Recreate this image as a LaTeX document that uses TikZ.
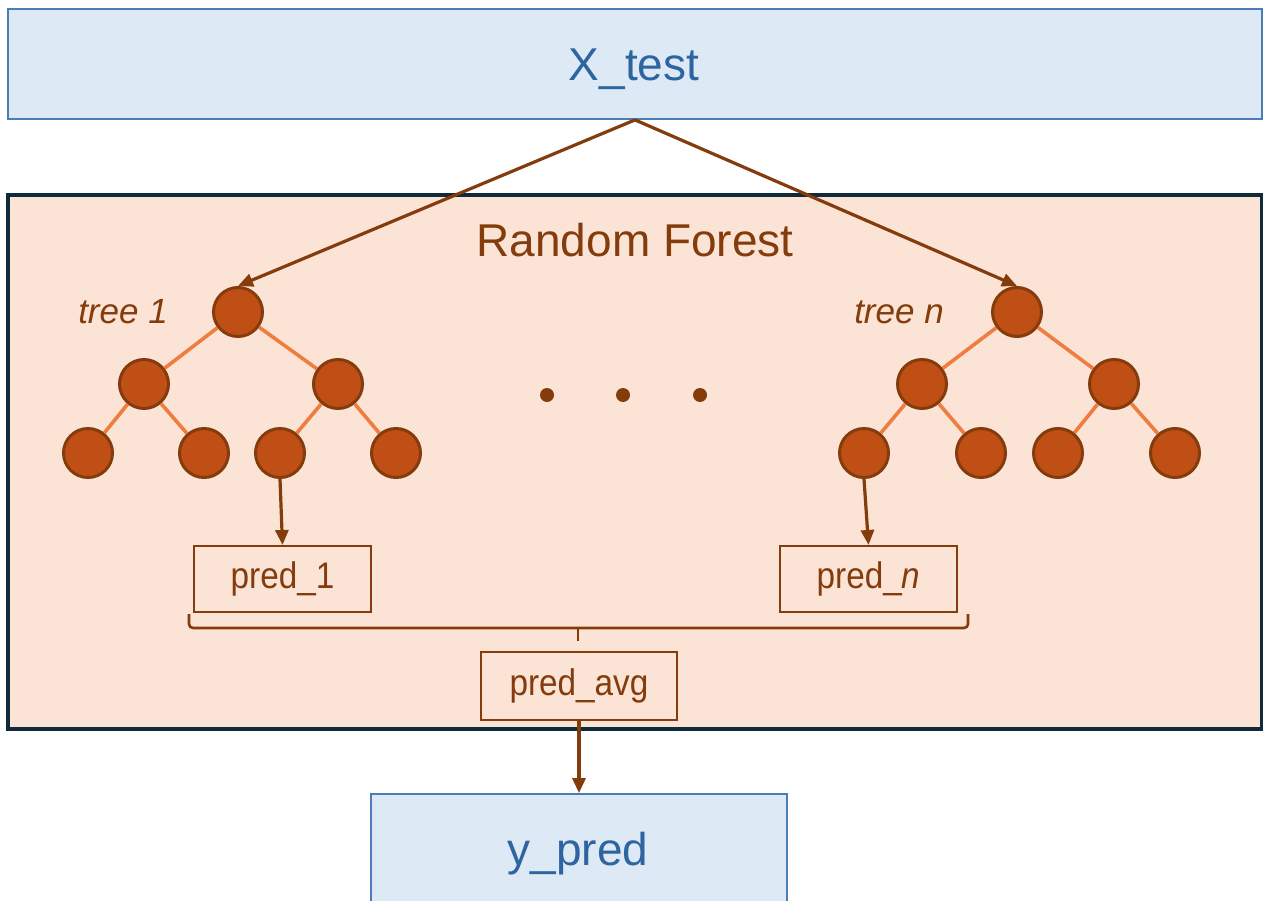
\documentclass[tikz,border=0pt]{standalone}
\usepackage{fontspec}
\setmainfont{Liberation Sans}
\newfontfamily\narrowfont[FakeStretch=0.9]{Liberation Sans}
\usetikzlibrary{arrows.meta}
\definecolor{boxblue}{HTML}{DDEAF6}
\definecolor{edgeblue}{HTML}{4A7EB4}
\definecolor{textblue}{HTML}{2E64A0}
\definecolor{peach}{HTML}{FBE3D6}
\definecolor{navy}{HTML}{0F2A3A}
\definecolor{brown}{HTML}{843C0C}
\definecolor{rust}{HTML}{C04F15}
\definecolor{branch}{HTML}{EE7D3F}
\tikzset{
  io/.style={draw=edgeblue, line width=1.8pt, fill=boxblue, text=textblue,
    font=\fontsize{46}{50}\selectfont, inner sep=0pt},
  treenode/.style={circle, draw=brown, line width=3pt, fill=rust,
    minimum size=49pt, inner sep=0pt},
  branchline/.style={draw=branch, line width=3.6pt},
  flow/.style={draw=brown, line width=3.2pt, -{Triangle[length=15pt,width=13pt]}},
  predbox/.style={draw=brown, line width=2pt, text=brown, inner sep=0pt,
    font=\narrowfont\fontsize{37}{40}\selectfont},
  treelabel/.style={text=brown, font=\itshape\fontsize{35}{38}\selectfont},
  dotnode/.style={circle, fill=brown, minimum size=14pt, inner sep=0pt},
}
\begin{document}
\begin{tikzpicture}[x=1pt, y=-1pt]
\useasboundingbox (0,0) rectangle (1263,901);
\clip (0,0) rectangle (1263,901);

% input and output boxes
\node[io, minimum width=1254pt, minimum height=110pt] (xtest) at (635,64) {};
\node[text=textblue, font=\fontsize{46}{50}\selectfont] (xtestlabel) at (634,69) {X\_test};
\node[io, minimum width=416pt, minimum height=130pt] (ypred) at (579,859) {};
\node[text=textblue, font=\fontsize{46}{50}\selectfont] (ypredlabel) at (578,854) {y\_pred};

% forest container
\node[draw=navy, line width=3.5pt, fill=peach, minimum width=1254pt, minimum height=534pt,
      inner sep=0pt] (forest) at (635,462) {};
\node[text=brown, font=\fontsize{46}{50}\selectfont] (title) at (635,240) {Random Forest};

% tree 1
\node[treelabel] (lab1) at (123,312) {tree 1};
\node[treenode] (a0) at (238,312) {};
\node[treenode] (a1) at (144,384) {};
\node[treenode] (a2) at (338,384) {};
\node[treenode] (a3) at (88,453) {};
\node[treenode] (a4) at (204,453) {};
\node[treenode] (a5) at (280,453) {};
\node[treenode] (a6) at (396,453) {};

% tree n
\node[treelabel] (labn) at (899,312) {tree \textit{n}};
\node[treenode] (b0) at (1017,312) {};
\node[treenode] (b1) at (922,384) {};
\node[treenode] (b2) at (1114,384) {};
\node[treenode] (b3) at (864,453) {};
\node[treenode] (b4) at (981,453) {};
\node[treenode] (b5) at (1058,453) {};
\node[treenode] (b6) at (1175,453) {};

% branches
\foreach \p/\c in {a0/a1,a0/a2,a1/a3,a1/a4,a2/a5,a2/a6,b0/b1,b0/b2,b1/b3,b1/b4,b2/b5,b2/b6}
  \draw[branchline] (\p) -- (\c);

% ellipsis between the trees
\node[dotnode] (d1) at (547,395) {};
\node[dotnode] (d2) at (623,395) {};
\node[dotnode] (d3) at (700,395) {};

% predictions
\node[predbox, minimum width=177pt, minimum height=66pt] (p1) at (282.5,579) {pred\_1};
\node[predbox, minimum width=177pt, minimum height=66pt] (pn) at (868.5,579) {pred\_\textit{n}};
\node[predbox, minimum width=196pt, minimum height=68pt] (pavg) at (579,686) {pred\_avg};

% bracket collecting the predictions
\coordinate (bl) at (189,614);
\coordinate (br) at (968,614);
\coordinate (bm) at (578,628);
\coordinate (bt) at (578,641);
\draw[brown, line width=2.6pt, rounded corners=4pt] (bl) -- (bl |- bm) -- (br |- bm) -- (br);
\draw[brown, line width=2.6pt] (bm) -- (bt);

% connectors
\draw[flow] (xtest.south) -- (a0.north);
\draw[flow] (xtest.south) -- (b0.north);
\draw[flow] (a5.south) -- (p1.north);
\draw[flow] (b3.south) -- (pn.north);
\draw[flow] (pavg.south) -- (ypred.north);
\end{tikzpicture}
\end{document}
